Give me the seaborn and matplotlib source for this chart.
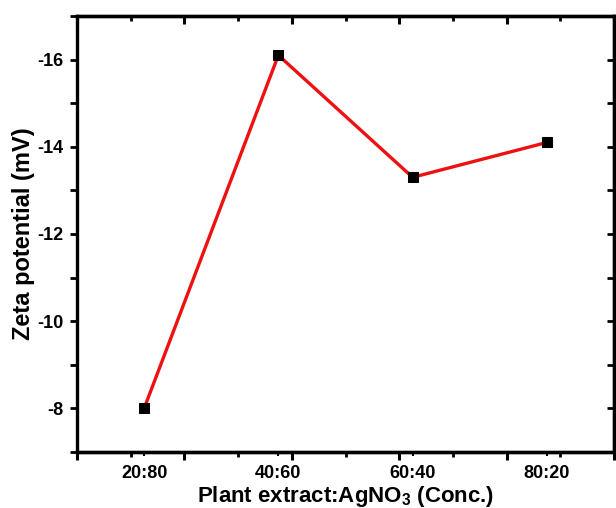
import numpy as np
import matplotlib
matplotlib.use("Agg")
import matplotlib.pyplot as plt
import seaborn as sns
from matplotlib.ticker import MultipleLocator, FixedLocator, NullFormatter

categories = ["20:80", "40:60", "60:40", "80:20"]
zeta = [-8.0, -16.1, -13.3, -14.1]
y_ticks = [-16, -14, -12, -10, -8]

sns.set_theme(style="ticks")
plt.rcParams["font.family"] = ["Liberation Sans", "DejaVu Sans"]
plt.rcParams["mathtext.fontset"] = "custom"
plt.rcParams["mathtext.rm"] = "Liberation Sans"
plt.rcParams["mathtext.bf"] = "Liberation Sans:bold"
plt.rcParams["text.color"] = "black"
plt.rcParams["axes.labelcolor"] = "black"
plt.rcParams["xtick.color"] = "black"
plt.rcParams["ytick.color"] = "black"

fig = plt.figure(figsize=(6.16, 5.08), dpi=100)
ax = fig.add_axes([77/616, 56/508, (614-77)/616, (452-16)/508])

pos = np.arange(len(categories))
sns.lineplot(x=pos, y=zeta, ax=ax, color="#ee1111", linewidth=2.4,
             marker="s", markersize=7, markerfacecolor="black",
             markeredgecolor="black")

ax.set_xlim(-0.5, 3.5)
ax.set_ylim(-7, -17)

# y axis
ax.yaxis.set_major_locator(FixedLocator(y_ticks))
ax.yaxis.set_minor_locator(MultipleLocator(1))
ax.set_yticklabels([str(v) for v in y_ticks])
ax.tick_params(axis="y", which="both", direction="out", length=5, width=2,
               labelsize=13, pad=5, colors="black")

# x axis: category labels with short ticks
ax.set_xticks(pos)
ax.set_xticklabels(categories)
ax.tick_params(axis="x", which="major", direction="out", length=3, width=1.5,
               labelsize=13, pad=6, colors="black")
ax.tick_params(axis="x", which="minor", bottom=False)
for lab in ax.get_xticklabels() + ax.get_yticklabels():
    lab.set_fontweight("bold")

# extra tick layers (Origin-style)
sec_b = ax.secondary_xaxis("bottom")
sec_b.xaxis.set_major_locator(FixedLocator(np.arange(-0.5, 3.6, 0.8)))
sec_b.xaxis.set_minor_locator(FixedLocator(np.arange(-0.1, 3.5, 0.8)))
sec_b.xaxis.set_major_formatter(NullFormatter())
sec_b.tick_params(which="major", direction="out", length=6, width=2.2, colors="black")
sec_b.tick_params(which="minor", direction="out", length=3.5, width=2, colors="black")

sec_t = ax.secondary_xaxis("top")
sec_t.xaxis.set_major_locator(FixedLocator(np.arange(-0.5, 3.6, 0.8)))
sec_t.xaxis.set_minor_locator(FixedLocator(np.arange(-0.1, 3.5, 0.8)))
sec_t.xaxis.set_major_formatter(NullFormatter())
sec_t.tick_params(which="major", direction="in", length=6, width=2.2, colors="black")
sec_t.tick_params(which="minor", direction="in", length=3.5, width=2, colors="black")

sec_r = ax.secondary_yaxis("right")
sec_r.yaxis.set_major_locator(FixedLocator(y_ticks))
sec_r.yaxis.set_minor_locator(MultipleLocator(1))
sec_r.yaxis.set_major_formatter(NullFormatter())
sec_r.tick_params(which="both", direction="in", length=5, width=2, colors="black")

for a in (ax, sec_b, sec_t, sec_r):
    for s in a.spines.values():
        s.set_linewidth(2.4)
        s.set_color("black")

ax.set_xlabel(r"Plant extract:AgNO$_\mathbf{3}$ (Conc.)", fontsize=16,
              fontweight="bold", color="black")
ax.set_ylabel("Zeta potential (mV)", fontsize=17, fontweight="bold",
              color="black")
ax.xaxis.set_label_coords(0.5, -0.074)
ax.yaxis.set_label_coords(-0.078, 0.5)

fig.savefig("out.png", dpi=100)
